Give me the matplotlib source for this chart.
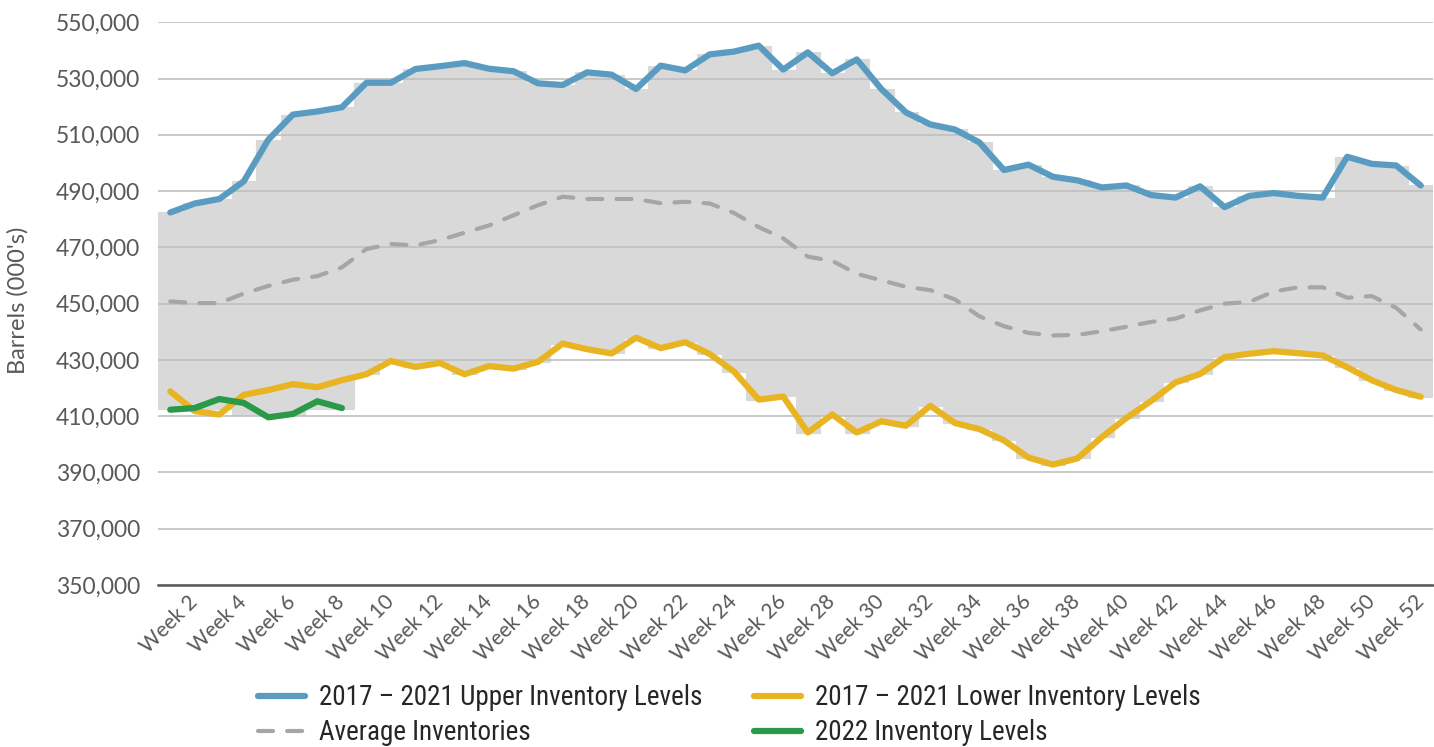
import matplotlib
matplotlib.use('Agg')
import matplotlib.pyplot as plt
from matplotlib import font_manager
from matplotlib.ticker import FuncFormatter
import numpy as np


def pick_font(names):
    for n in names:
        try:
            font_manager.findfont(n, fallback_to_default=False)
            return n
        except ValueError:
            continue
    return 'DejaVu Sans'


# weekly inventories, thousands of barrels (axis shows 000's)
weeks = list(range(1, 53))
upper = [482.4, 485.6, 487.2, 493.5, 508.3, 517.2, 518.3, 519.8, 528.5, 528.5,
         533.4, 534.4, 535.5, 533.5, 532.6, 528.3, 527.7, 532.2, 531.4, 526.3,
         534.6, 532.9, 538.6, 539.6, 541.7, 533.2, 539.3, 531.9, 536.8, 526.3,
         518.0, 513.7, 511.9, 507.3, 497.5, 499.4, 495.1, 493.8, 491.3, 492.0,
         488.6, 487.7, 491.7, 484.3, 488.3, 489.3, 488.3, 487.7, 502.2, 499.7,
         499.1, 492.0]
lower = [418.8, 411.8, 410.6, 417.6, 419.3, 421.4, 420.3, 422.8, 424.9, 429.6,
         427.5, 428.9, 424.9, 427.8, 426.9, 429.3, 435.8, 433.8, 432.3, 437.9,
         434.2, 436.3, 432.1, 425.8, 415.9, 417.0, 404.2, 410.6, 404.2, 408.2,
         406.6, 413.7, 407.6, 405.4, 401.4, 395.3, 392.8, 395.0, 402.6, 409.4,
         415.4, 422.0, 425.0, 431.0, 432.2, 433.1, 432.4, 431.6, 427.4, 422.8,
         419.3, 416.9]
average = [450.8, 450.2, 450.2, 453.6, 456.3, 458.5, 459.8, 462.9, 469.4, 471.2,
           470.7, 472.6, 475.2, 477.8, 481.4, 485.0, 488.0, 487.2, 487.2, 487.2,
           485.7, 486.2, 485.6, 482.2, 477.2, 473.2, 466.7, 465.2, 460.6, 458.3,
           456.0, 454.8, 451.5, 445.5, 442.0, 439.6, 438.7, 438.9, 440.2, 441.8,
           443.5, 444.7, 447.6, 450.0, 450.6, 454.3, 455.8, 455.8, 452.1, 452.7,
           448.5, 440.8]
inv_2022 = [412.3, 412.9, 416.1, 414.7, 409.6, 410.8, 415.3, 412.9]
# bottom of the grey range band for the first weeks (rest follows lower)
band_floor_start = [412.6, 412.6, 412.6, 410.6, 410.6, 410.6, 412.6, 412.6]

tick_weeks = weeks[1::2]
y_ticks = list(range(350, 551, 20))

main_font = pick_font(['Lato', 'Open Sans', 'DejaVu Sans'])
legend_font = pick_font(['Liberation Sans Narrow', 'Roboto Condensed', 'Lato'])
plt.rcParams['font.family'] = [main_font, 'DejaVu Sans']

fig = plt.figure(figsize=(14.34, 7.47), dpi=100)
ax = fig.add_axes([158 / 1434, 1 - 585 / 747, 1275 / 1434, (585 - 22.3) / 747])

x = np.arange(len(weeks))
upper_a = np.array(upper)
band_low = np.array(band_floor_start + lower[len(band_floor_start):])

ax.bar(x, upper_a - band_low, bottom=band_low, width=1.0, color='#D9D9D9',
       edgecolor='#D9D9D9', linewidth=0.8, zorder=1)
l_avg, = ax.plot(x, average, color='#A6A6A6', lw=3, dashes=(3.6, 3.4),
                 dash_capstyle='round', zorder=3)
l_up, = ax.plot(x, upper, color='#5A9CC1', lw=4.5, solid_capstyle='round',
                solid_joinstyle='round', zorder=4)
l_low, = ax.plot(x, lower, color='#E8B422', lw=4.5, solid_capstyle='round',
                 solid_joinstyle='round', zorder=4)
l_22, = ax.plot(x[:len(inv_2022)], inv_2022, color='#2B9A48', lw=4.5,
                solid_capstyle='round', solid_joinstyle='round', zorder=5)

ax.set_xlim(-0.5, len(weeks) - 0.5)
ax.set_ylim(350, 550)
ax.set_yticks(y_ticks)
ax.yaxis.set_major_formatter(FuncFormatter(lambda v, p: f"{int(round(v * 1000)):,}"))
ax.set_xticks(x[1::2])
ax.set_xticklabels([f"Week {w}" for w in tick_weeks], rotation=45, ha='right',
                   va='center', rotation_mode='anchor')

ax.grid(axis='y', color='#BFBFBF', lw=1.2)
ax.set_axisbelow(False)
for s in ['top', 'left', 'right']:
    ax.spines[s].set_visible(False)
ax.spines['bottom'].set_color('#595959')
ax.spines['bottom'].set_linewidth(1.8)
ax.spines['bottom'].set_zorder(6)

ax.tick_params(axis='both', length=0, colors='#595959')
ax.tick_params(axis='y', labelsize=16.5, pad=13)
ax.tick_params(axis='x', labelsize=15, pad=10)

fig.text(18 / 1434, 1 - 300 / 747, "Barrels (000's)", rotation=90, ha='center',
         va='center', fontsize=17, color='#595959')

leg = fig.legend([l_up, l_avg, l_low, l_22],
                 ['2017 – 2021 Upper Inventory Levels', 'Average Inventories',
                  '2017 – 2021 Lower Inventory Levels', '2022 Inventory Levels'],
                 ncol=2, loc='upper left', bbox_to_anchor=(258 / 1434, 1 - 684 / 747),
                 frameon=False, prop={'family': legend_font, 'size': 19.5},
                 handlelength=1.75, handletextpad=0.5, columnspacing=1.9,
                 labelspacing=0.3, borderpad=0, borderaxespad=0)
for t in leg.get_texts():
    t.set_color('#262626')

fig.savefig('out.png', dpi=100)
